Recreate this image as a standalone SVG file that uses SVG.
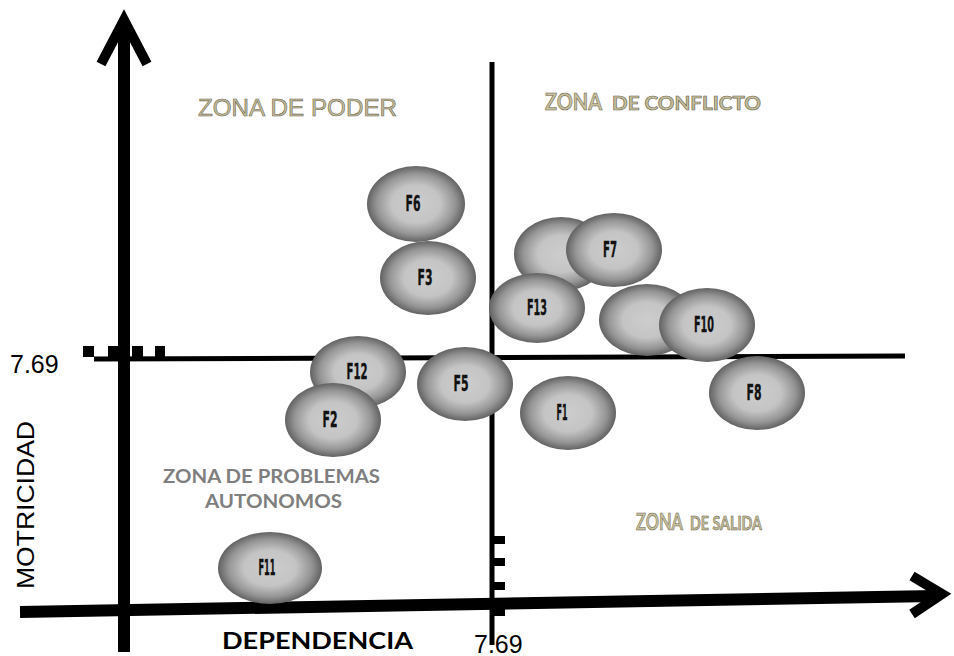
<svg xmlns="http://www.w3.org/2000/svg" width="954" height="656" viewBox="0 0 954 656">
<defs>
<radialGradient id="g" cx="50%" cy="50%" r="50%">
<stop offset="0" stop-color="#cdcdcd"/>
<stop offset="0.5" stop-color="#c4c4c4"/>
<stop offset="0.8" stop-color="#959595"/>
<stop offset="1" stop-color="#626262"/>
</radialGradient>
<style>
.ax{stroke:#000;fill:none}
.e{fill:url(#g)}
.lb{font-family:"Liberation Sans Narrow","DejaVu Sans Condensed",sans-serif;font-weight:bold;font-size:22px;fill:#111;text-anchor:middle;stroke:#111;stroke-width:0.4}
.zk{font-family:"Liberation Sans",Arial,sans-serif;fill:#c6bf9b;stroke:#6b6650;stroke-width:0.6}
.zc{font-family:Lato,"Open Sans",sans-serif;font-weight:bold;fill:#c6bf9b;stroke:#6b6650;stroke-width:0.6}
.zg{font-family:Lato,"Open Sans",sans-serif;font-weight:bold;fill:#7f7f7f;font-size:19px}
.num{font-family:"Liberation Sans",Arial,sans-serif;font-size:25px;fill:#000}
</style>
</defs>
<rect width="954" height="656" fill="#fff"/>
<g id="connectors">
<line class="ax" x1="124" y1="652" x2="124" y2="24" stroke-width="12"/>
<polyline class="ax" points="101,64 124,20 147,64" stroke-width="10" stroke-linejoin="miter"/>
<line class="ax" x1="20" y1="612" x2="935" y2="596" stroke-width="12"/>
<polyline class="ax" points="912,576 942,594 912,614" stroke-width="10" stroke-linejoin="miter"/>
<line class="ax" x1="492" y1="62" x2="492" y2="645" stroke-width="5"/>
<line class="ax" x1="94" y1="359" x2="905" y2="356" stroke-width="5"/>
<g fill="#000">
<rect x="83" y="346" width="11" height="11"/>
<rect x="108" y="346" width="12" height="11"/>
<rect x="132" y="346" width="11" height="11"/>
<rect x="155" y="346" width="10" height="11"/>
<rect x="492" y="536" width="13" height="8"/>
<rect x="492" y="558" width="13" height="8"/>
<rect x="492" y="582" width="13" height="8"/>
<rect x="492" y="608" width="13" height="8"/>
</g>
</g>
<text class="num" x="10" y="373">7.69</text>
<text class="num" x="474" y="653">7.69</text>
<text x="34" y="505" transform="rotate(-90 34 505)" font-family="Liberation Sans, Arial, sans-serif" font-size="23" text-anchor="middle" textLength="168" lengthAdjust="spacingAndGlyphs">MOTRICIDAD</text>
<text x="222" y="649" font-family="Lato, 'Open Sans', sans-serif" font-weight="bold" font-size="23" textLength="191" lengthAdjust="spacingAndGlyphs">DEPENDENCIA</text>
<text class="zk" x="198" y="116" font-size="24" textLength="199" lengthAdjust="spacingAndGlyphs">ZONA DE PODER</text>
<text class="zc" x="545" y="110"><tspan font-size="23" textLength="57" lengthAdjust="spacingAndGlyphs">ZONA</tspan><tspan font-size="18" dx="10" textLength="149" lengthAdjust="spacingAndGlyphs">DE CONFLICTO</tspan></text>
<text class="zc" x="636" y="530"><tspan font-size="23" textLength="47" lengthAdjust="spacingAndGlyphs">ZONA</tspan><tspan font-size="18" dx="7" textLength="72" lengthAdjust="spacingAndGlyphs">DE SALIDA</tspan></text>
<text class="zg" x="163" y="483" textLength="217" lengthAdjust="spacingAndGlyphs">ZONA DE PROBLEMAS</text>
<text class="zg" x="205" y="508" textLength="137" lengthAdjust="spacingAndGlyphs">AUTONOMOS</text>
<g id="F6"><ellipse class="e" cx="416" cy="204" rx="49" ry="38"/><text class="lb" x="413" y="211" textLength="15" lengthAdjust="spacingAndGlyphs">F6</text></g>
<g id="F3"><ellipse class="e" cx="428" cy="278" rx="48" ry="37"/><text class="lb" x="425" y="285" textLength="15" lengthAdjust="spacingAndGlyphs">F3</text></g>
<g id="B1"><ellipse class="e" cx="561" cy="254" rx="47" ry="37"/></g>
<g id="F7"><ellipse class="e" cx="614" cy="250" rx="48" ry="37"/><text class="lb" x="610" y="257" textLength="14" lengthAdjust="spacingAndGlyphs">F7</text></g>
<g id="F13"><ellipse class="e" cx="537" cy="308" rx="48" ry="35"/><text class="lb" x="537" y="315" textLength="20" lengthAdjust="spacingAndGlyphs">F13</text></g>
<g id="B2"><ellipse class="e" cx="647" cy="320" rx="48" ry="36"/></g>
<g id="F10"><ellipse class="e" cx="707" cy="325" rx="48" ry="37"/><text class="lb" x="704" y="332" textLength="20" lengthAdjust="spacingAndGlyphs">F10</text></g>
<g id="F12"><ellipse class="e" cx="358" cy="372" rx="48" ry="36"/><text class="lb" x="357" y="379" textLength="21" lengthAdjust="spacingAndGlyphs">F12</text></g>
<g id="F2"><ellipse class="e" cx="333" cy="420" rx="48" ry="37"/><text class="lb" x="330" y="427" textLength="15" lengthAdjust="spacingAndGlyphs">F2</text></g>
<g id="F5"><ellipse class="e" cx="465" cy="384" rx="48" ry="37"/><text class="lb" x="461" y="391" textLength="15" lengthAdjust="spacingAndGlyphs">F5</text></g>
<g id="F1"><ellipse class="e" cx="568" cy="413" rx="48" ry="37"/><text class="lb" x="562" y="420" textLength="11" lengthAdjust="spacingAndGlyphs">F1</text></g>
<g id="F8"><ellipse class="e" cx="757" cy="393" rx="48" ry="37"/><text class="lb" x="754" y="400" textLength="15" lengthAdjust="spacingAndGlyphs">F8</text></g>
<g id="F11"><ellipse class="e" cx="270" cy="568" rx="52" ry="36"/><text class="lb" x="267" y="575" textLength="17" lengthAdjust="spacingAndGlyphs">F11</text></g>
</svg>
